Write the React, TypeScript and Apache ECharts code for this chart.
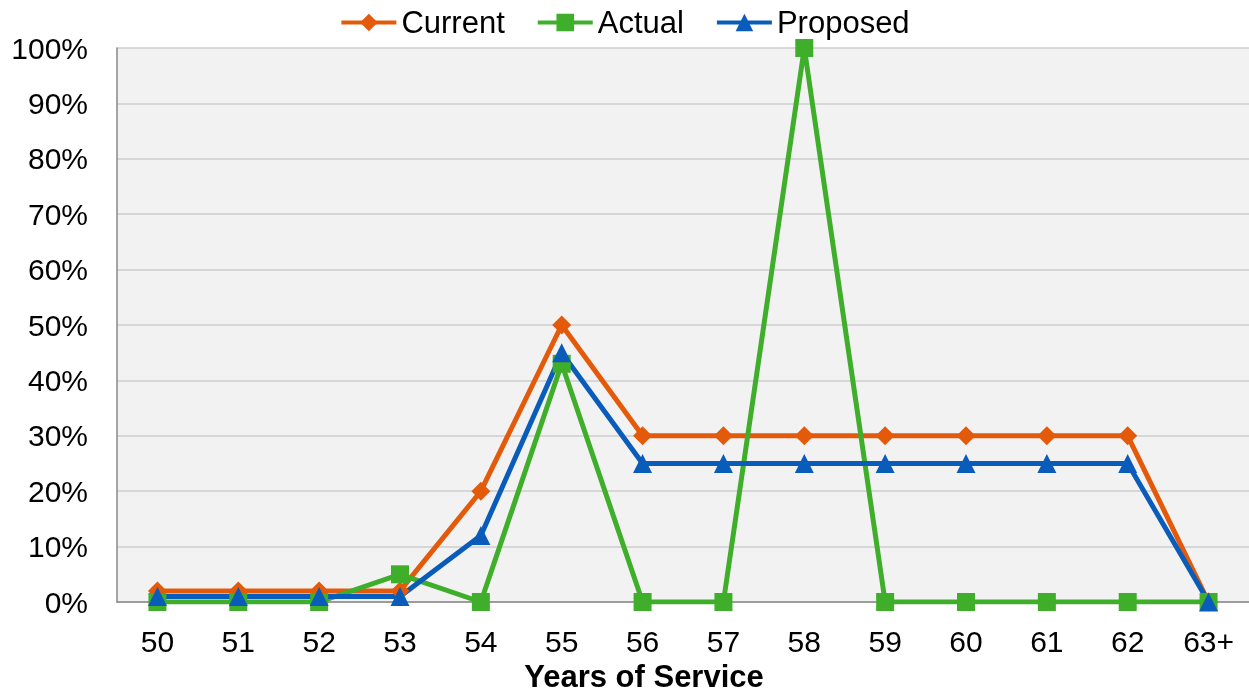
import React, { useEffect, useRef } from "react";
import * as echarts from "echarts";

const categories = ["50", "51", "52", "53", "54", "55", "56", "57", "58", "59", "60", "61", "62", "63+"];
const currentValues = [2, 2, 2, 2, 20, 50, 30, 30, 30, 30, 30, 30, 30, 0];
const actualValues = [0, 0, 0, 5, 0, 43, 0, 0, 100, 0, 0, 0, 0, 0];
const proposedValues = [1, 1, 1, 1, 12, 45, 25, 25, 25, 25, 25, 25, 25, 0];

const FONT = "'Liberation Sans', Arial, sans-serif";

export default function App() {
  const ref = useRef<HTMLDivElement>(null);
  useEffect(() => {
    if (!ref.current) return;
    const chart = echarts.init(ref.current, null, { renderer: "svg" });
    const mk = (name: string, data: number[], color: string, symbol: string, size: number) => ({
      name,
      type: "line",
      data,
      symbol,
      symbolSize: size,
      showAllSymbol: true,
      lineStyle: { color, width: 5 },
      itemStyle: { color },
      z: 3,
    });
    chart.setOption({
      animation: false,
      textStyle: { fontFamily: FONT },
      legend: {
        top: 2,
        left: "center",
        itemWidth: 55,
        itemHeight: 22,
        itemGap: 31,
        lineStyle: { width: 4 },
        textStyle: { fontSize: 31, color: "#000", fontFamily: FONT },
        data: ["Current", "Actual", "Proposed"],
      },
      grid: {
        left: 117,
        right: 0,
        top: 48,
        bottom: 92,
        backgroundColor: "#f2f2f2",
        show: true,
        borderWidth: 0,
        containLabel: false,
        outerBoundsMode: "none",
      },
      xAxis: {
        type: "category",
        data: categories,
        boundaryGap: true,
        name: "Years of Service",
        nameLocation: "middle",
        nameGap: 60,
        nameTextStyle: {
          fontSize: 31,
          lineHeight: 26,
          fontWeight: "bold",
          color: "#000",
          fontFamily: FONT,
          padding: [0, 78, 0, 0],
        },
        axisLine: { lineStyle: { color: "#888", width: 1.5 } },
        axisTick: { show: false },
        axisLabel: { fontSize: 30, color: "#000", margin: 24, fontFamily: FONT },
      },
      yAxis: {
        type: "value",
        min: 0,
        max: 100,
        interval: 10,
        axisLine: { show: true, lineStyle: { color: "#888", width: 1.5 } },
        axisTick: { show: false },
        splitLine: { lineStyle: { color: "#cccccc", width: 1.5 } },
        axisLabel: { formatter: "{value}%", fontSize: 30, color: "#000", margin: 29, fontFamily: FONT },
      },
      series: [
        mk("Current", currentValues, "#e35a0a", "diamond", 19),
        mk("Actual", actualValues, "#3fae2a", "rect", 18),
        mk("Proposed", proposedValues, "#0a5cba", "triangle", 19),
      ],
    });
    return () => chart.dispose();
  }, []);
  return <div ref={ref} style={{ position: "fixed", left: 0, top: 0, width: 1249, height: 694 }} />;
}
